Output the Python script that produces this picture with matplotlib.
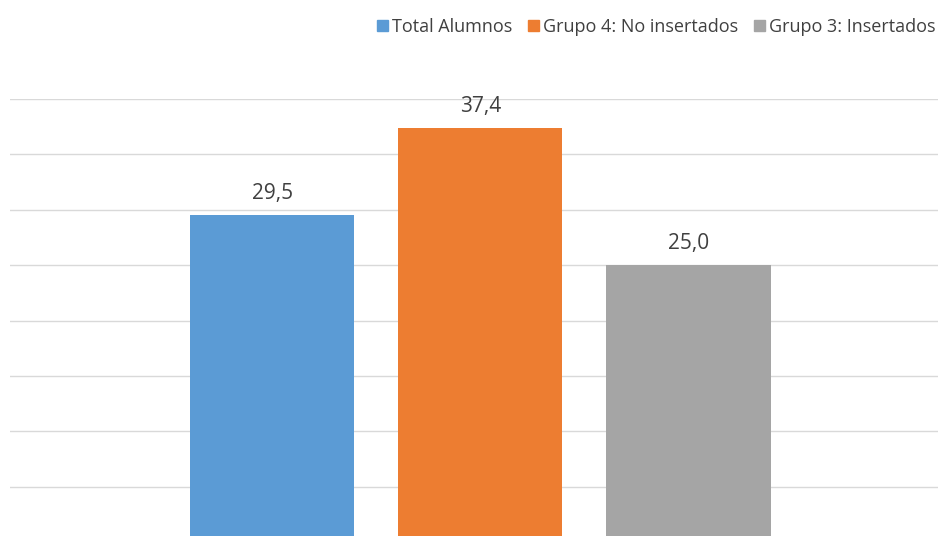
import matplotlib
matplotlib.use("Agg")
from matplotlib import pyplot as plt

categorias = ['Total Alumnos', 'Grupo 4: No insertados', 'Grupo 3: Insertados']
valores = [29.5, 37.4, 25.0]
etiquetas = ['29,5', '37,4', '25,0']
colores = ['#5b9bd5', '#ed7d31', '#a5a5a5']

plt.rcParams['font.family'] = ['Open Sans', 'DejaVu Sans']

fig = plt.figure(figsize=(9.38, 5.36), dpi=100)
# axes deliberately bleed past the bottom/right edge like the cropped original
ax = fig.add_axes([10 / 938, -6 / 536, 1 - 10 / 938, 443 / 536])

pos = [0, 1, 2]
barras = ax.bar(pos, valores, width=0.79, color=colores, zorder=3)
for b, txt in zip(barras, etiquetas):
	ax.annotate(txt, (b.get_x() + b.get_width() / 2, b.get_height()),
				xytext=(0, 8), textcoords='offset points', ha='center', va='bottom',
				fontsize=15, color='#404040')

ax.set_xlim(-1.26, 3.20)
ax.set_ylim(0, 40)
ax.set_yticks(range(0, 41, 5))
ax.yaxis.grid(True, color='#d9d9d9', linewidth=1, zorder=0)
ax.tick_params(left=False, bottom=False, labelleft=False, labelbottom=False)
for s in ax.spines.values():
	s.set_visible(False)

handles = [plt.Rectangle((0, 0), 1, 1, color=c) for c in colores]
fig.legend(handles, categorias, loc='center left', bbox_to_anchor=(377 / 938, 1 - 27 / 536),
		   ncol=3, frameon=False, fontsize=13, handlelength=0.6, handleheight=0.6,
		   handletextpad=0.25, columnspacing=0.85, labelcolor='#404040', borderaxespad=0,
		   borderpad=0)

fig.savefig('out.png', dpi=100)
